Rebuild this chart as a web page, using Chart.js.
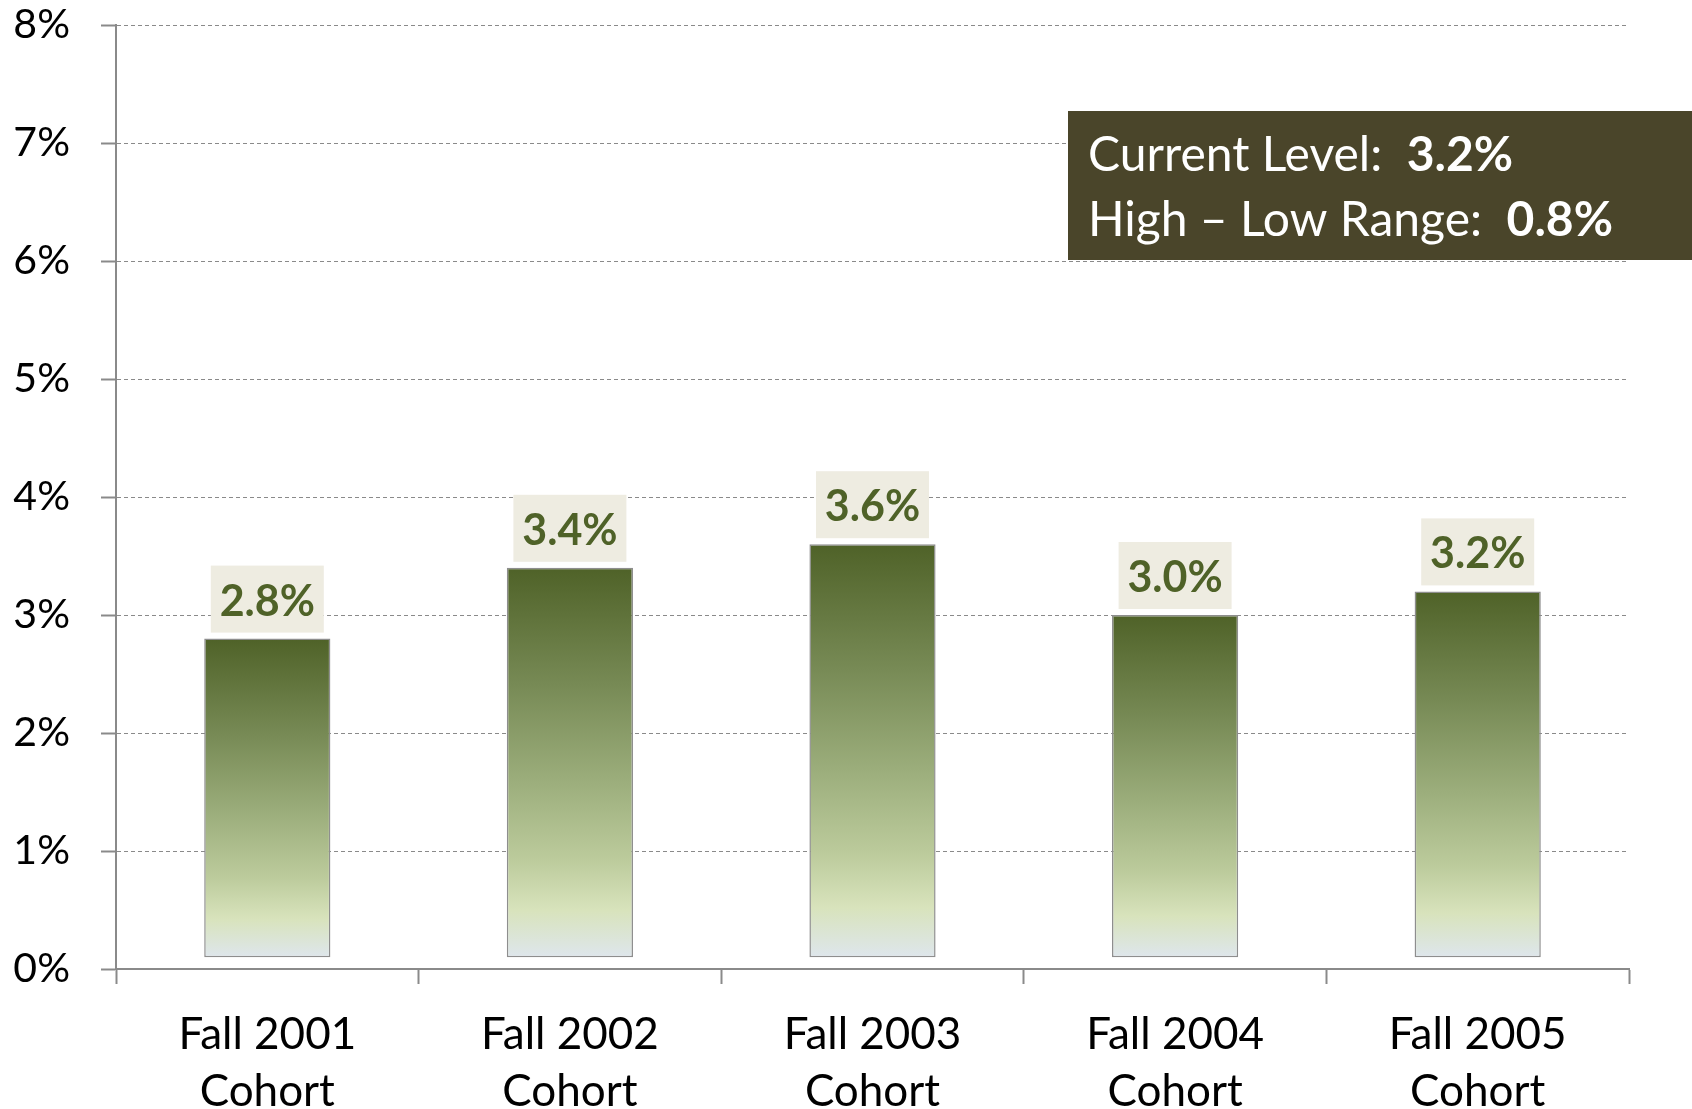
<!DOCTYPE html>
<html>
<head>
<meta charset="utf-8">
<script src="https://cdn.jsdelivr.net/npm/chart.js@4/dist/chart.umd.min.js"></script>
<style>
  html, body { margin: 0; padding: 0; background: #fff; }
  #wrap { width: 1692px; height: 1109px; }
</style>
</head>
<body>
<div id="wrap"><canvas id="chart" width="1692" height="1109"></canvas></div>
<script>
// Cohort rates (percent)
const cohorts = [['Fall 2001', 'Cohort'], ['Fall 2002', 'Cohort'], ['Fall 2003', 'Cohort'], ['Fall 2004', 'Cohort'], ['Fall 2005', 'Cohort']];
const rates = [2.8, 3.4, 3.6, 3.0, 3.2];
const barBase = 0.1;
const yTicks = [0, 1, 2, 3, 4, 5, 6, 7, 8];

const FONT = 'Lato, "Open Sans", sans-serif';
const AXIS_GREY = '#8a8a8a';

// Vertical gradient per bar, from its own top to its base
function barGradient(ctx) {
  const chart = ctx.chart;
  const y = chart.scales.y;
  if (!y || ctx.dataIndex === undefined) return '#4f6228';
  const top = y.getPixelForValue(rates[ctx.dataIndex]);
  const bottom = y.getPixelForValue(barBase);
  if (!isFinite(top) || !isFinite(bottom)) return '#4f6228';
  const g = chart.ctx.createLinearGradient(0, top, 0, bottom);
  g.addColorStop(0, '#4f6228');
  g.addColorStop(0.3, '#778a55');
  g.addColorStop(0.55, '#9cae7c');
  g.addColorStop(0.75, '#bccb9c');
  g.addColorStop(0.88, '#d8e3bc');
  g.addColorStop(1, '#dee6ec');
  return g;
}

// Value boxes above bars
const valueLabels = {
  id: 'valueLabels',
  afterDatasetsDraw(chart) {
    const { ctx } = chart;
    const meta = chart.getDatasetMeta(0);
    ctx.save();
    ctx.font = `bold 43px ${FONT}`;
    ctx.textAlign = 'center';
    ctx.textBaseline = 'alphabetic';
    meta.data.forEach((bar, i) => {
      const w = 113, h = 67;
      const bottom = bar.y - 6;
      ctx.fillStyle = '#eeece1';
      ctx.fillRect(bar.x - w / 2, bottom - h, w, h);
      ctx.fillStyle = '#4f6228';
      ctx.fillText(rates[i].toFixed(1) + '%', bar.x, bottom - 17);
    });
    ctx.restore();
  }
};

// Summary box in the upper right
const summaryBox = {
  id: 'summaryBox',
  afterDraw(chart) {
    const { ctx } = chart;
    const current = rates[rates.length - 1];
    const range = Math.max(...rates) - Math.min(...rates);
    const lines = [
      ['Current Level:  ', current.toFixed(1) + '%'],
      ['High \u2013 Low Range:  ', range.toFixed(1) + '%']
    ];
    ctx.save();
    ctx.fillStyle = '#4a452a';
    ctx.fillRect(1068, 111, 624, 149);
    ctx.fillStyle = '#ffffff';
    ctx.textBaseline = 'alphabetic';
    ctx.textAlign = 'left';
    const baselines = [171, 236];
    lines.forEach(([label, val], i) => {
      ctx.font = `48px ${FONT}`;
      ctx.fillText(label, 1088, baselines[i]);
      const lw = ctx.measureText(label).width;
      ctx.font = `bold 48px ${FONT}`;
      ctx.fillText(val, 1088 + lw, baselines[i]);
    });
    ctx.restore();
  }
};

new Chart(document.getElementById('chart'), {
  type: 'bar',
  data: {
    labels: cohorts,
    datasets: [{
      data: rates,
      base: barBase,
      backgroundColor: barGradient,
      borderColor: '#8e8e8e',
      borderWidth: 1.5,
      borderSkipped: false,
      barPercentage: 0.417,
      categoryPercentage: 1
    }]
  },
  options: {
    responsive: false,
    animation: false,
    events: [],
    layout: { padding: { top: 25, right: 63, left: 0, bottom: 0 } },
    plugins: {
      legend: { display: false },
      tooltip: { enabled: false }
    },
    scales: {
      x: {
        grid: {
          display: true,
          drawOnChartArea: false,
          drawTicks: true,
          tickLength: 15,
          tickColor: AXIS_GREY,
          tickWidth: 2
        },
        border: { color: AXIS_GREY, width: 2 },
        ticks: {
          color: '#000',
          font: { family: FONT, size: 44, lineHeight: 1.3 },
          padding: 22,
          maxRotation: 0
        },
        afterFit(scale) { scale.height = 140; }
      },
      y: {
        min: 0,
        max: 8,
        afterBuildTicks(scale) { scale.ticks = yTicks.map(v => ({ value: v })); },
        grid: {
          color: AXIS_GREY,
          lineWidth: 1,
          tickLength: 15,
          tickColor: AXIS_GREY,
          tickWidth: 2
        },
        border: { color: AXIS_GREY, width: 2, dash: [4, 3] },
        ticks: {
          color: '#000',
          font: { family: FONT, size: 41 },
          padding: 31,
          callback: v => v + '%'
        },
        afterFit(scale) {
          scale.width = 116;
          // top label may overflow; the layout padding already leaves room
          scale.paddingTop = 0;
          scale.paddingBottom = 0;
        }
      }
    }
  },
  plugins: [valueLabels, summaryBox]
});
</script>
</body>
</html>
